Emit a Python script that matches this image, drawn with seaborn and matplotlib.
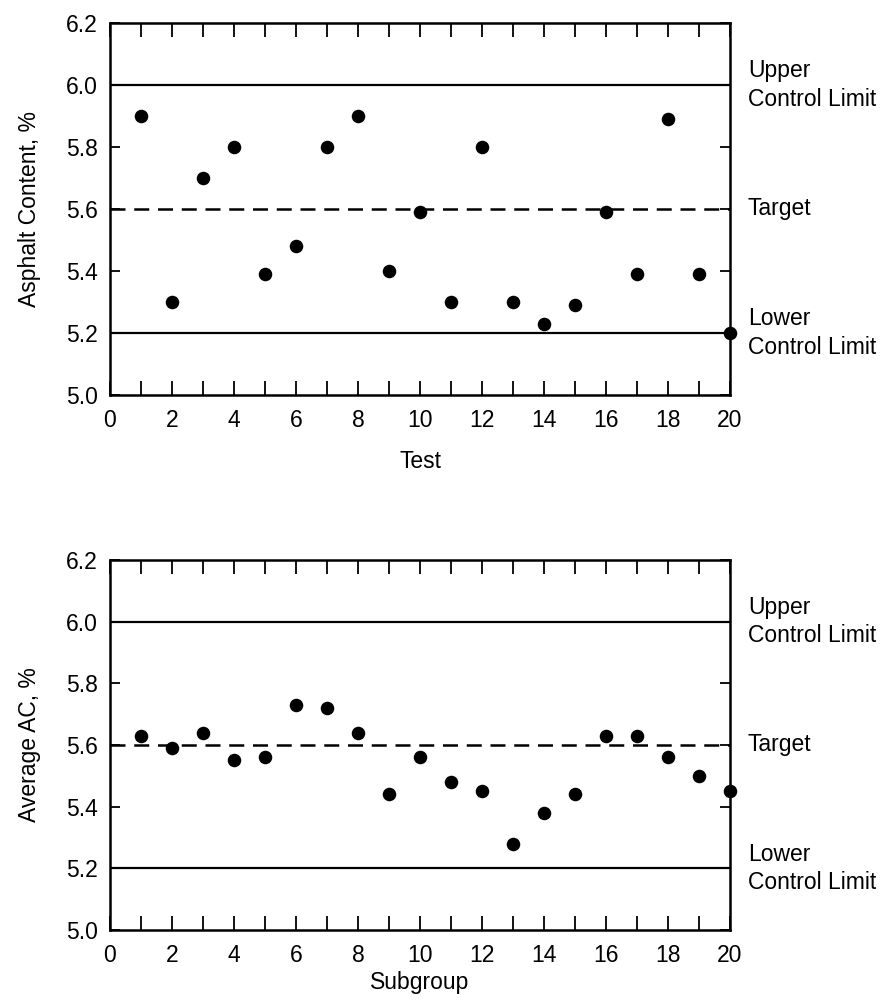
import matplotlib
matplotlib.use("Agg")
import matplotlib.pyplot as plt
import seaborn as sns
import pandas as pd
from matplotlib.ticker import MultipleLocator

# ---- data ----
tests = list(range(1, 21))
asphalt_content = [5.90, 5.30, 5.70, 5.80, 5.39, 5.48, 5.80, 5.90, 5.40, 5.59,
                   5.30, 5.80, 5.30, 5.23, 5.29, 5.59, 5.39, 5.89, 5.39, 5.20]
subgroups = list(range(1, 21))
average_ac = [5.63, 5.59, 5.64, 5.55, 5.56, 5.73, 5.72, 5.64, 5.44, 5.56,
              5.48, 5.45, 5.28, 5.38, 5.44, 5.63, 5.63, 5.56, 5.50, 5.45]
upper_limit = 6.0
target = 5.6
lower_limit = 5.2
y_ticks = [5.0, 5.2, 5.4, 5.6, 5.8, 6.0, 6.2]
x_ticks = [0, 2, 4, 6, 8, 10, 12, 14, 16, 18, 20]
limit_labels = ["Upper\nControl Limit", "Target", "Lower\nControl Limit"]

sns.set_theme(style="ticks")
plt.rcParams["font.family"] = ["Liberation Sans", "DejaVu Sans"]
plt.rcParams["text.color"] = "black"
plt.rcParams["axes.labelcolor"] = "black"
plt.rcParams["xtick.color"] = "black"
plt.rcParams["ytick.color"] = "black"

fig = plt.figure(figsize=(8.85, 10.02), dpi=100)
ax1 = fig.add_axes([110 / 885, 1 - 395 / 1002, 620 / 885, 372 / 1002])
ax2 = fig.add_axes([110 / 885, 1 - 930 / 1002, 620 / 885, 370 / 1002])

df1 = pd.DataFrame({"x": tests, "y": asphalt_content})
df2 = pd.DataFrame({"x": subgroups, "y": average_ac})

FS = 16.5

for ax, df, xlabel, ylabel, xpad in [(ax1, df1, "Test", "Asphalt Content, %", 13),
                                     (ax2, df2, "Subgroup", "Average AC, %", 3)]:
    ax.axhline(upper_limit, color="black", lw=1.6, zorder=1)
    ax.axhline(lower_limit, color="black", lw=1.6, zorder=1)
    ax.axhline(target, color="black", lw=1.8, ls=(0, (6, 3.5)), zorder=1)
    sns.scatterplot(data=df, x="x", y="y", ax=ax, color="black", s=95,
                    edgecolor="black", linewidth=0, zorder=3, clip_on=False)
    ax.set_xlim(0, 20)
    ax.set_ylim(5.0, 6.2)
    ax.set_xticks(x_ticks)
    ax.set_xticklabels([str(t) for t in x_ticks], fontsize=FS)
    ax.xaxis.set_minor_locator(MultipleLocator(1))
    ax.set_yticks(y_ticks)
    ax.set_yticklabels([f"{t:.1f}" for t in y_ticks], fontsize=FS)
    ax.tick_params(axis="x", which="both", direction="in", top=True, bottom=True,
                   length=10, width=1.3, pad=10, color="black")
    ax.tick_params(axis="y", which="major", direction="in", left=True, right=True,
                   length=7, width=1.3, pad=9, color="black")
    ax.tick_params(axis="y", which="minor", left=False, right=False)
    for sp in ax.spines.values():
        sp.set_visible(True)
        sp.set_linewidth(1.8)
        sp.set_color("black")
    ax.set_xlabel(xlabel, fontsize=FS, labelpad=xpad)
    ax.set_ylabel(ylabel, fontsize=FS, labelpad=18)
    for val, lab in zip([upper_limit, target, lower_limit], limit_labels):
        ax.text(1.029, val, lab, transform=ax.get_yaxis_transform(),
                ha="left", va="center", fontsize=FS, linespacing=1.3,
                color="black")

fig.savefig("out.png", dpi=100, facecolor="white")
